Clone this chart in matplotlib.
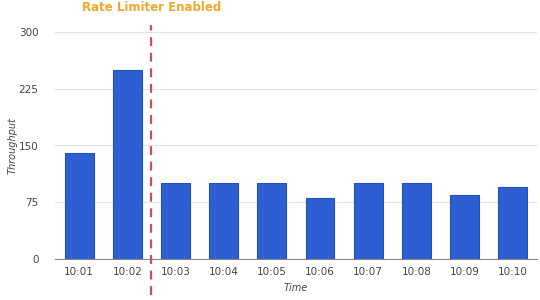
import matplotlib
matplotlib.use("Agg")
import matplotlib.pyplot as plt

times = ["10:01", "10:02", "10:03", "10:04", "10:05", "10:06", "10:07", "10:08", "10:09", "10:10"]
throughput = [140, 250, 100, 100, 100, 80, 100, 100, 85, 95]
y_ticks = [0, 75, 150, 225, 300]
limiter_at = 1.5  # between 10:02 and 10:03

BAR, EDGE, GRID, TXT = "#2d5fd2", "#2450b8", "#e2e2e2", "#444444"

fig = plt.figure(figsize=(5.4, 3.0), dpi=100)
ax = fig.add_axes([0.102, 0.137, 0.892, 0.756])
x = list(range(len(times)))
ax.bar(x, throughput, width=0.6, color=BAR, edgecolor=EDGE, linewidth=0.8, zorder=3)

ax.set_xlim(-0.5, len(times) - 0.5)
ax.set_ylim(0, 300)
ax.set_yticks(y_ticks)
ax.set_xticks(x)
ax.set_xticklabels(times)
ax.tick_params(length=0, labelsize=7.5, colors=TXT, pad=6)
ax.tick_params(axis="y", pad=12)
ax.grid(axis="y", color=GRID, lw=0.8, zorder=0)
for s in ["top", "right", "left"]:
    ax.spines[s].set_visible(False)
ax.spines["bottom"].set_color("#888888")
ax.spines["bottom"].set_zorder(4)

# dashed marker, runs past the plot area
ax.plot([limiter_at, limiter_at], [-0.16, 1.03], transform=ax.get_xaxis_transform(),
        ls=(0, (4, 3)), color="#c94f58", lw=1.6, clip_on=False, zorder=5)
ax.text(limiter_at, 1.11, "Rate Limiter Enabled", transform=ax.get_xaxis_transform(),
        ha="center", va="center", color="#f0a630", fontsize=8.5, fontweight="bold")

ax.set_xlabel("Time", fontsize=7, style="italic", color=TXT, labelpad=4)
ax.set_ylabel("Throughput", fontsize=7, style="italic", color=TXT, labelpad=1)

fig.savefig("out.png", dpi=100)
